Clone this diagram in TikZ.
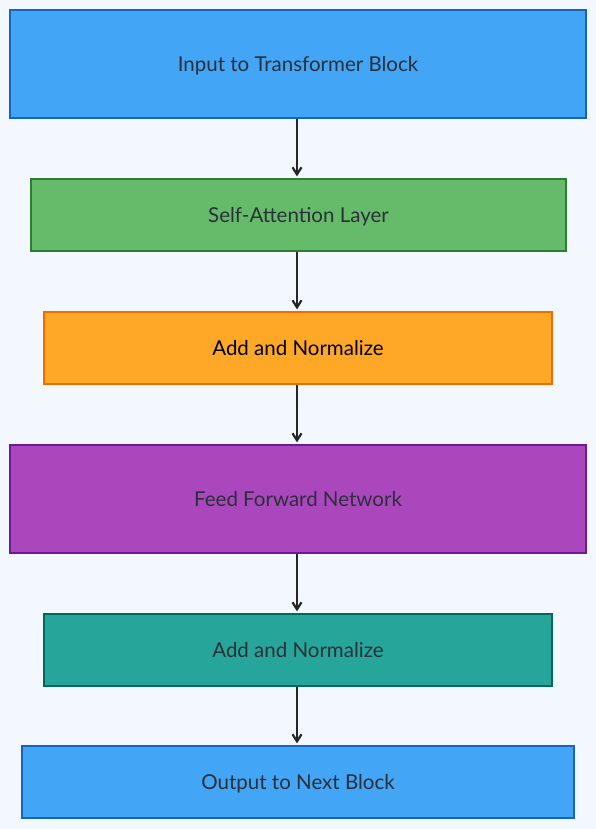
\documentclass[tikz,border=0pt]{standalone}
\usepackage{fontspec}
\setmainfont{Lato}
\usetikzlibrary{arrows.meta}
\definecolor{bg}{HTML}{F3F8FE}
\definecolor{txt}{HTML}{2B2F3A}
\definecolor{bluef}{HTML}{42A5F5}\definecolor{blued}{HTML}{1565C0}
\definecolor{greenf}{HTML}{66BB6A}\definecolor{greend}{HTML}{2E7D32}
\definecolor{orangef}{HTML}{FFA726}\definecolor{oranged}{HTML}{EF6C00}
\definecolor{purplef}{HTML}{AB47BC}\definecolor{purpled}{HTML}{6A1B9A}
\definecolor{tealf}{HTML}{26A69A}\definecolor{teald}{HTML}{00695C}
\begin{document}
\begin{tikzpicture}[x=1pt,y=1pt,
  blk/.style={draw, line width=1.3pt, inner sep=0pt, text depth=0pt, font=\fontsize{20.5}{23}\selectfont, text=txt},
  conn/.style={draw=black!85, line width=2.2pt, -{Straight Barb[length=7pt,width=9pt]}}]
\fill[bg] (0,0) rectangle (596,-829);
\useasboundingbox (0,0) rectangle (596,-829);
\node[blk, fill=bluef, draw=blued, minimum width=576pt, minimum height=108pt] (a) at (298,-64) {Input to Transformer Block};
\node[blk, fill=greenf, draw=greend, minimum width=535pt, minimum height=72pt] (b) at (298.5,-215) {Self-Attention Layer};
\node[blk, fill=orangef, draw=oranged, minimum width=508pt, minimum height=72pt, text=black] (c) at (298,-348) {Add and Normalize};
\node[blk, fill=purplef, draw=purpled, minimum width=576pt, minimum height=108pt] (d) at (298,-499) {Feed Forward Network};
\node[blk, fill=tealf, draw=teald, minimum width=508pt, minimum height=72pt] (e) at (298,-650) {Add and Normalize};
\node[blk, fill=bluef, draw=blued, minimum width=552pt, minimum height=72pt] (f) at (298,-782) {Output to Next Block};
\draw[conn] (a.south -| 297,0) -- ([yshift=2pt]b.north -| 297,0);
\draw[conn] (b.south -| 297,0) -- ([yshift=2pt]c.north -| 297,0);
\draw[conn] (c.south -| 297,0) -- ([yshift=2pt]d.north -| 297,0);
\draw[conn] (d.south -| 297,0) -- ([yshift=2pt]e.north -| 297,0);
\draw[conn] (e.south -| 297,0) -- ([yshift=2pt]f.north -| 297,0);
\end{tikzpicture}
\end{document}
